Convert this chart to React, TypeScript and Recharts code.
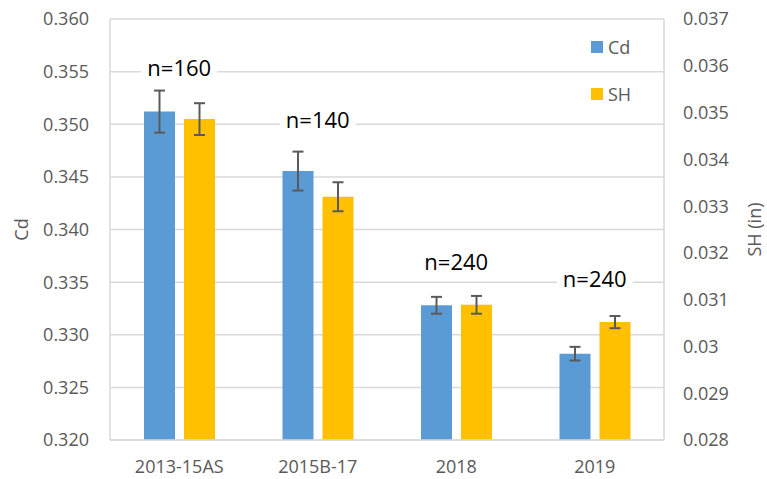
import React from 'react';
import { BarChart, Bar, XAxis, YAxis, CartesianGrid, ErrorBar, Legend, ReferenceDot } from 'recharts';

const categories = ['2013-15AS', '2015B-17', '2018', '2019'];
const cdValues = [0.3512, 0.34555, 0.3328, 0.3282];
const cdErrors = [0.0020, 0.00185, 0.0008, 0.00065];
const shValues = [0.03486, 0.0332, 0.03089, 0.03052];
const shErrors = [0.00034, 0.00031, 0.00019, 0.00013];
const nLabels = ['n=160', 'n=140', 'n=240', 'n=240'];
const nLabelLevels = [0.35546, 0.35052, 0.33702, 0.3354];
const leftTicks = [0.32, 0.325, 0.33, 0.335, 0.34, 0.345, 0.35, 0.355, 0.36];
const rightTicks = [0.028, 0.029, 0.03, 0.031, 0.032, 0.033, 0.034, 0.035, 0.036, 0.037];

const data = categories.map((c, i) => ({
  cat: c,
  cd: cdValues[i],
  cdErr: cdErrors[i],
  sh: shValues[i],
  shErr: shErrors[i],
}));

const FONT = '"Open Sans", "Noto Sans", sans-serif';
const GRAY = '#595959';
const GRID = '#D9D9D9';
const BLUE = '#5B9BD5';
const YELLOW = '#FFC000';

const NLabel = (text: string) => (props: any) => {
  const { cx, cy } = props;
  return (
    <g>
      <rect x={cx - 38} y={cy - 15} width={76} height={30} fill="#fff" />
      <text x={cx} y={cy} textAnchor="middle" dominantBaseline="central" fontSize={22} fontFamily={FONT} fill="#000">
        {text}
      </text>
    </g>
  );
};

const LegendContent = () => (
  <div style={{ fontFamily: FONT, fontSize: 18, color: GRAY }}>
    {[
      { name: 'Cd', color: BLUE },
      { name: 'SH', color: YELLOW },
    ].map((it, i) => (
      <div key={it.name} style={{ display: 'flex', alignItems: 'center', height: 24, marginBottom: i === 0 ? 23 : 0 }}>
        <span style={{ display: 'inline-block', width: 12, height: 12, background: it.color, marginRight: 5 }} />
        <span>{it.name}</span>
      </div>
    ))}
  </div>
);

export default function App() {
  return (
    <div style={{ position: 'absolute', left: 0, top: 0, width: 767, height: 479, background: '#fff' }}>
      <BarChart
        width={767}
        height={479}
        data={data}
        margin={{ top: 19, right: 0, bottom: 0, left: 0 }}
        barSize={31}
        barGap={9}
      >
        <CartesianGrid yAxisId="left" vertical={false} stroke={GRID} strokeWidth={1.5} />
        <XAxis
          dataKey="cat"
          height={39}
          tickLine={false}
          axisLine={{ stroke: GRID, strokeWidth: 1.5 }}
          tick={{ fontSize: 18, fontFamily: FONT, fill: GRAY }}
          tickMargin={14}
        />
        <YAxis
          yAxisId="left"
          orientation="left"
          width={110}
          domain={[0.32, 0.36]}
          ticks={leftTicks}
          interval={0}
          allowDataOverflow
          tickFormatter={(v: number) => v.toFixed(3)}
          tickLine={false}
          axisLine={{ stroke: GRID, strokeWidth: 1.5 }}
          tick={{ fontSize: 18, fontFamily: FONT, fill: GRAY }}
          tickMargin={15}
          label={{
            content: (p: any) => {
              const vb = p.viewBox;
              const cx = vb.x + 21;
              const cy = vb.y + vb.height / 2;
              return (
                <text x={cx} y={cy} transform={`rotate(-90 ${cx} ${cy})`} textAnchor="middle" dominantBaseline="central" fontSize={18} fontFamily={FONT} fill={GRAY}>
                  Cd
                </text>
              );
            },
          }}
        />
        <YAxis
          yAxisId="right"
          orientation="right"
          width={103}
          domain={[0.028, 0.037]}
          ticks={rightTicks}
          interval={0}
          allowDataOverflow
          tickFormatter={(v: number) => String(Number(v.toFixed(3)))}
          tickLine={false}
          axisLine={{ stroke: GRID, strokeWidth: 1.5 }}
          tick={{ fontSize: 18, fontFamily: FONT, fill: GRAY }}
          tickMargin={13}
          label={{
            content: (p: any) => {
              const vb = p.viewBox;
              const cx = vb.x + 90;
              const cy = vb.y + vb.height / 2;
              return (
                <text x={cx} y={cy} transform={`rotate(-90 ${cx} ${cy})`} textAnchor="middle" dominantBaseline="central" fontSize={18} fontFamily={FONT} fill={GRAY}>
                  SH (in)
                </text>
              );
            },
          }}
        />
        <Legend
          layout="vertical"
          align="center"
          verticalAlign="middle"
          wrapperStyle={{ left: 591, top: 35, width: 'auto' }}
          content={<LegendContent />}
        />
        <Bar yAxisId="left" dataKey="cd" name="Cd" fill={BLUE} isAnimationActive={false}>
          <ErrorBar dataKey="cdErr" width={5.5} stroke="#5A5A5A" strokeWidth={2} direction="y" isAnimationActive={false} />
        </Bar>
        <Bar yAxisId="right" dataKey="sh" name="SH" fill={YELLOW} isAnimationActive={false}>
          <ErrorBar dataKey="shErr" width={5.5} stroke="#5A5A5A" strokeWidth={2} direction="y" isAnimationActive={false} />
        </Bar>
        {categories.map((c, i) => (
          <ReferenceDot
            key={c + i}
            yAxisId="left"
            x={c}
            y={nLabelLevels[i]}
            r={1}
            ifOverflow="visible"
            shape={NLabel(nLabels[i])}
          />
        ))}
      </BarChart>
    </div>
  );
}
